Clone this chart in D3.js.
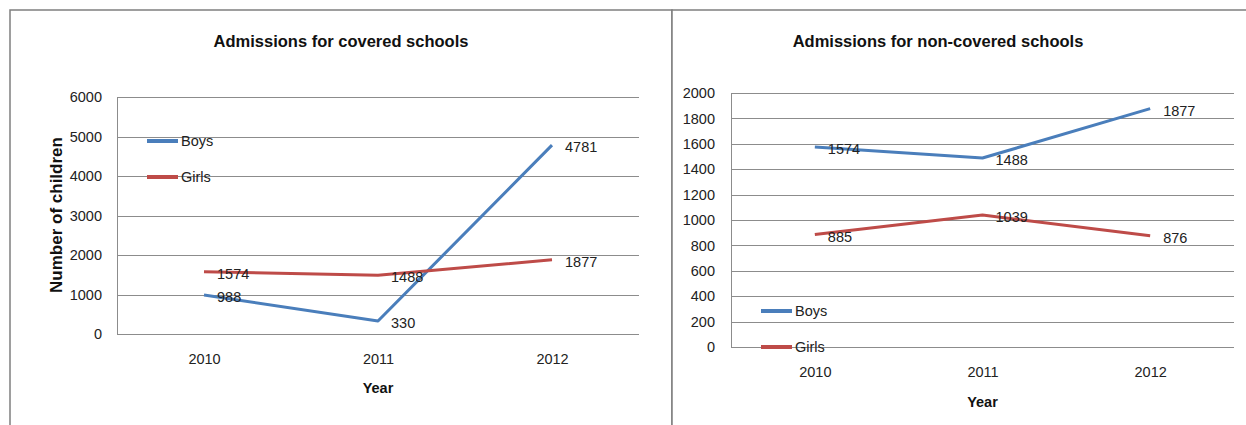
<!DOCTYPE html>
<html>
<head>
<meta charset="utf-8">
<script src="https://cdn.jsdelivr.net/npm/d3@7"></script>
<style>
  body { margin: 0; background: #fff; }
  svg { display: block; font-family: 'Liberation Sans', Arial, sans-serif; }
  .grid line { stroke: #8c8c8c; stroke-width: 1; }
  .panelBox { fill: #fff; stroke: #7f7f7f; stroke-width: 1.5; }
  .tick text, .label, .legendText { font-size: 14.5px; fill: #222; }
  .chartTitle { font-size: 16.5px; font-weight: bold; fill: #111; }
</style>
</head>
<body>
<div id="chart"></div>
<script>
// Shared categories
const years = ['2010', '2011', '2012'];

// Covered schools
const coveredBoys = [988, 330, 4781];
const coveredGirls = [1574, 1488, 1877];
const coveredTicks = [0, 1000, 2000, 3000, 4000, 5000, 6000];

// Non-covered schools
const nonCoveredBoys = [1574, 1488, 1877];
const nonCoveredGirls = [885, 1039, 876];
const nonCoveredTicks = [0, 200, 400, 600, 800, 1000, 1200, 1400, 1600, 1800, 2000];

const seriesNames = ['Boys', 'Girls'];
const seriesColors = ['#4a7ebb', '#be4b48'];

const width = 1246;
const height = 425;

let svg = d3.select('#chart')
  .append('svg')
  .attr('width', width)
  .attr('height', height);

// panel - box position, plot - plot area, legend - legend position
function drawPanel(opts) {
  svg.append('rect')
    .attr('class', 'panelBox')
    .attr('x', opts.panel.x)
    .attr('y', opts.panel.y)
    .attr('width', opts.panel.w)
    .attr('height', opts.panel.h);

  // Title
  svg.append('text')
    .attr('class', 'chartTitle')
    .attr('x', opts.titleX)
    .attr('y', 47)
    .attr('text-anchor', 'middle')
    .text(opts.title);

  let x = d3.scalePoint()
    .domain(years)
    .range([opts.plot.left, opts.plot.right])
    .padding(0.5);

  let y = d3.scaleLinear()
    .domain([0, d3.max(opts.ticks)])
    .range([opts.plot.bottom, opts.plot.top]);

  // Gridlines
  let grid = svg.append('g').attr('class', 'grid');
  grid.selectAll('line')
    .data(opts.ticks)
    .enter().append('line')
    .attr('x1', opts.plot.left)
    .attr('x2', opts.plot.right)
    .attr('y1', d => Math.round(y(d)) + 0.5)
    .attr('y2', d => Math.round(y(d)) + 0.5);
  grid.append('line')
    .attr('x1', opts.plot.left + 0.5)
    .attr('x2', opts.plot.left + 0.5)
    .attr('y1', opts.plot.top)
    .attr('y2', opts.plot.bottom);

  // Y axis labels
  let yAxis = d3.axisLeft(y)
    .tickValues(opts.ticks)
    .tickFormat(d3.format('d'))
    .tickSize(0)
    .tickPadding(0);
  svg.append('g')
    .attr('transform', 'translate(' + opts.yLabelX + ',0)')
    .call(yAxis)
    .call(g => g.select('.domain').remove());

  // X axis labels
  let xAxis = d3.axisBottom(x).tickSize(0).tickPadding(0);
  svg.append('g')
    .attr('transform', 'translate(0,' + (opts.plot.bottom + opts.xLabelGap) + ')')
    .call(xAxis)
    .call(g => g.select('.domain').remove());

  // Axis titles
  svg.append('text')
    .attr('x', x('2011'))
    .attr('y', opts.yearY)
    .attr('text-anchor', 'middle')
    .style('font-size', '14.5px')
    .style('font-weight', 'bold')
    .style('fill', '#111')
    .text('Year');

  if (opts.yTitle) {
    svg.append('text')
      .attr('transform', 'translate(62,215) rotate(-90)')
      .attr('text-anchor', 'middle')
      .style('font-size', '17px')
      .style('font-weight', 'bold')
      .style('fill', '#111')
      .text(opts.yTitle);
  }

  let line = d3.line()
    .x((d, i) => x(years[i]))
    .y(d => y(d));

  opts.series.forEach(function(values, s) {
    svg.append('path')
      .datum(values)
      .attr('d', line)
      .attr('fill', 'none')
      .attr('stroke', seriesColors[s])
      .attr('stroke-width', 3)
      .attr('stroke-linejoin', 'round');

    svg.append('g').selectAll('text')
      .data(values)
      .enter().append('text')
      .attr('class', 'label')
      .attr('x', (d, i) => x(years[i]) + 13)
      .attr('y', d => y(d) + 2)
      .attr('dominant-baseline', 'central')
      .text(d => d);
  });

  // Legend
  seriesNames.forEach(function(name, s) {
    let ly = opts.legend.y + s * opts.legend.step;
    svg.append('line')
      .attr('x1', opts.legend.x)
      .attr('x2', opts.legend.x + 31)
      .attr('y1', ly)
      .attr('y2', ly)
      .attr('stroke', seriesColors[s])
      .attr('stroke-width', 4);
    svg.append('text')
      .attr('class', 'legendText')
      .attr('x', opts.legend.x + 34)
      .attr('y', ly)
      .attr('dominant-baseline', 'central')
      .text(name);
  });
}

drawPanel({
  panel: {x: 10, y: 10, w: 662, h: 430},
  title: 'Admissions for covered schools',
  titleX: 341,
  plot: {left: 117, right: 639, top: 97, bottom: 334},
  ticks: coveredTicks,
  yLabelX: 102,
  xLabelGap: 20,
  yearY: 393,
  yTitle: 'Number of children',
  series: [coveredBoys, coveredGirls],
  legend: {x: 147, y: 141, step: 36}
});

drawPanel({
  panel: {x: 672, y: 10, w: 590, h: 430},
  title: 'Admissions for non-covered schools',
  titleX: 938,
  plot: {left: 731, right: 1234, top: 93, bottom: 347},
  ticks: nonCoveredTicks,
  yLabelX: 715,
  xLabelGap: 20,
  yearY: 407,
  yTitle: null,
  series: [nonCoveredBoys, nonCoveredGirls],
  legend: {x: 761, y: 311, step: 36}
});
</script>
</body>
</html>
